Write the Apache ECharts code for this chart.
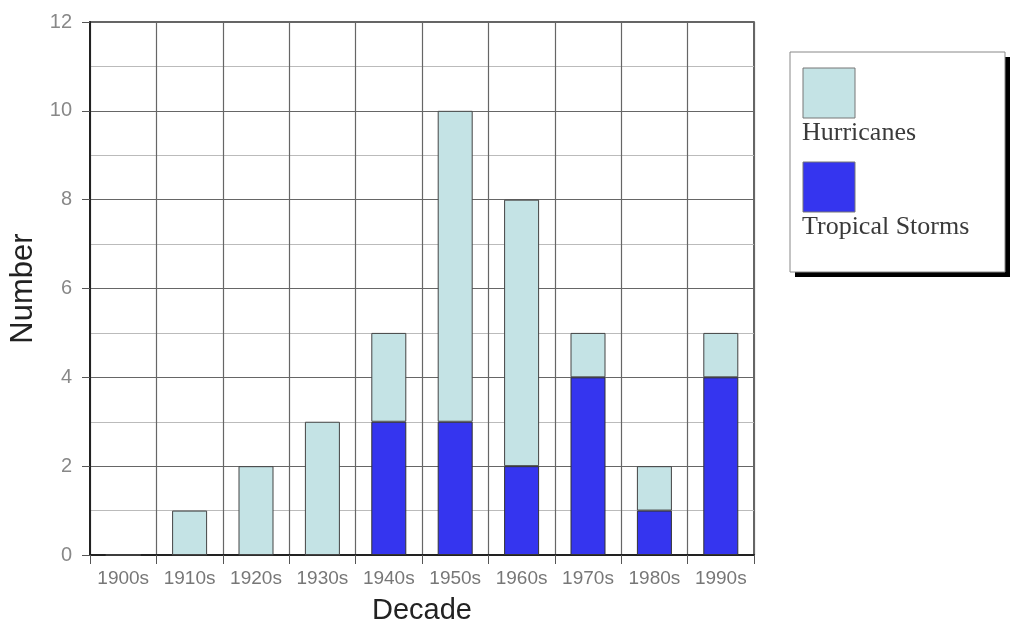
<!DOCTYPE html>
<html>
<head>
<meta charset="utf-8">
<script src="https://cdn.jsdelivr.net/npm/echarts@6/dist/echarts.min.js"></script>
<style>
html,body{margin:0;padding:0;background:#fff;}
#main{width:1013px;height:622px;}
</style>
</head>
<body>
<div id="main"></div>
<script>
const categories = ['1900s','1910s','1920s','1930s','1940s','1950s','1960s','1970s','1980s','1990s'];
const seriesNames = ['Hurricanes','Tropical Storms'];
const tropicalStorms = [0,0,0,0,3,3,2,4,1,4];
const hurricanes = [0,1,2,3,2,7,6,1,1,1];
const yTicks = [0,2,4,6,8,10,12];
const colors = {'Hurricanes':'#c4e3e5','Tropical Storms':'#3535ef'};
const sansFont = '"Liberation Sans", Arial, sans-serif';

const chart = echarts.init(document.getElementById('main'));
const legendItems = [];
seriesNames.forEach(function(name, i){
  const y0 = 68 + i*94;
  legendItems.push({type:'rect', shape:{x:803,y:y0,width:52,height:50},
    style:{fill:colors[name], stroke:'#777', lineWidth:1}});
  legendItems.push({type:'text', x:802, y:y0+65,
    style:{text:name, font:'26px "Liberation Serif", "Times New Roman", serif', fill:'#3a3a3a', verticalAlign:'middle'}});
});
chart.setOption({
  animation:false,
  grid:{left:90,right:259,top:22,bottom:67,show:true,borderColor:'#333',borderWidth:1.5,
    containLabel:false,outerBoundsMode:'none'},
  xAxis:{type:'category',data:categories,boundaryGap:true,
    name:'Decade',nameLocation:'middle',nameGap:41,
    nameTextStyle:{fontSize:29,color:'#222',fontFamily:sansFont},
    axisLine:{lineStyle:{color:'#222',width:2}},
    axisTick:{show:true,interval:0,length:9,lineStyle:{color:'#555'}},
    axisLabel:{interval:0,fontSize:19,color:'#777',margin:14,fontFamily:sansFont},
    splitLine:{show:true,interval:0,lineStyle:{color:'#666',width:1.2}}
  },
  yAxis:{type:'value',min:yTicks[0],max:yTicks[yTicks.length-1],interval:2,
    name:'Number',nameLocation:'middle',nameGap:50,
    nameTextStyle:{fontSize:31,color:'#222',fontFamily:sansFont},
    axisLine:{show:true,lineStyle:{color:'#222',width:2}},
    axisTick:{show:true,length:8,lineStyle:{color:'#555'}},
    axisLabel:{fontSize:20,color:'#888',margin:18,fontFamily:sansFont},
    splitLine:{show:true,lineStyle:{color:'#666',width:1.2}},
    minorTick:{show:false,splitNumber:2},
    minorSplitLine:{show:true,lineStyle:{color:'#bbb',width:1}}
  },
  series:[
    {name:'Tropical Storms',type:'bar',stack:'total',data:tropicalStorms,barWidth:35,
      itemStyle:{color:colors['Tropical Storms'],borderColor:'#333',borderWidth:1}},
    {name:'Hurricanes',type:'bar',stack:'total',data:hurricanes,barWidth:35,
      itemStyle:{color:colors['Hurricanes'],borderColor:'#444',borderWidth:1}}
  ],
  graphic:[
    {type:'rect',shape:{x:795,y:57,width:215,height:220},style:{fill:'#000'}},
    {type:'rect',shape:{x:790,y:52,width:215,height:220},style:{fill:'#fff',stroke:'#888',lineWidth:1}}
  ].concat(legendItems)
});
</script>
</body>
</html>
